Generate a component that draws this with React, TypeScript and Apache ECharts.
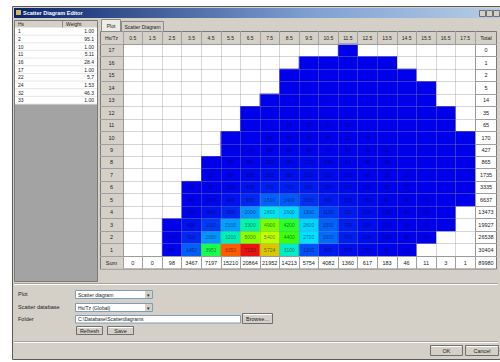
import React, { useEffect, useRef } from 'react';
import * as echarts from 'echarts';

const FONT = 'Liberation Sans';

const tzLabels = ['0.5', '1.5', '2.5', '3.5', '4.5', '5.5', '6.5', '7.5', '8.5', '9.5', '10.5', '11.5', '12.5', '13.5', '14.5', '15.5', '16.5', '17.5'];
const hsLabels = ['1', '2', '3', '4', '5', '6', '7', '8', '9', '10', '11', '12', '13', '14', '15', '16', '17'];
const sumLabels = ['0', '0', '98', '3467', '7197', '15210', '20864', '21952', '14213', '5754', '4082', '1360', '617', '183', '46', '11', '3', '1'];
const totalLabels = ['30404', '26538', '19927', '13473', '6637', '3335', '1735', '865', '427', '170', '65', '35', '14', '5', '2', '1', '0'];
const grandTotal = '89980';

const n = null;
const hs1 = [n, n, 60, 1452, 3951, 6350, 7150, 5724, 3100, 1300, 600, 300, 150, 80, 30, n, n, n];
const hs2 = [n, n, 30, 900, 2000, 3200, 5000, 5400, 4400, 2700, 1600, 700, 300, 100, 40, 10, n, n];
const hs3 = [n, n, 8, 400, 1100, 2100, 3300, 4900, 4200, 2600, 1500, 700, 300, 100, 30, 10, 3, n];
const hs4 = [n, n, n, 100, 400, 900, 2000, 2800, 2600, 1800, 1100, 600, 300, 120, 40, 12, 4, n];
const hs5 = [n, n, n, 30, 150, 400, 900, 1500, 1400, 1000, 600, 350, 180, 80, 30, 10, 4, 1];
const hs6 = [n, n, n, 10, 50, 150, 400, 700, 700, 600, 350, 200, 100, 50, 20, 8, 3, 1];
const hs7 = [n, n, n, n, 20, 60, 150, 350, 380, 320, 220, 120, 60, 30, 12, 5, 2, 1];
const hs8 = [n, n, n, n, 5, 20, 60, 150, 180, 170, 130, 80, 40, 18, 7, 3, 1, 1];
const hs9 = [n, n, n, n, n, 5, 20, 60, 80, 90, 70, 50, 30, 12, 5, 2, 1, 0.5];
const hs10 = [n, n, n, n, n, 1, 5, 20, 30, 35, 30, 22, 14, 7, 3, 1, 0.5, 0.3];
const hs11 = [n, n, n, n, n, n, 1, 5, 10, 12, 12, 10, 7, 4, 2, 1, 0.5, n];
const hs12 = [n, n, n, n, n, n, 0.5, 2, 4, 6, 7, 6, 4, 2, 1, 0.6, 0.3, n];
const hs13 = [n, n, n, n, n, n, n, 0.5, 1, 2, 3, 3, 2, 1, 0.6, 0.3, n, n];
const hs14 = [n, n, n, n, n, n, n, n, 0.4, 0.8, 1, 1, 0.8, 0.5, 0.3, 0.2, n, n];
const hs15 = [n, n, n, n, n, n, n, n, 0.2, 0.3, 0.4, 0.4, 0.3, 0.2, 0.1, n, n, n];
const hs16 = [n, n, n, n, n, n, n, n, n, 0.1, 0.2, 0.2, 0.2, 0.1, n, n, n, n];
const hs17 = [n, n, n, n, n, n, n, n, n, n, n, 0.1, n, n, n, n, n, n];
const cellRows = [hs1, hs2, hs3, hs4, hs5, hs6, hs7, hs8, hs9, hs10, hs11, hs12, hs13, hs14, hs15, hs16, hs17];

const listNames = ['1', '2', '10', '11', '16', '17', '22', '24', '32', '33'];
const listWeights = ['1.00', '95.1', '1.00', '5.11', '28.4', '1.00', '5.7', '1.53', '46.3', '1.00'];

export default function App() {
  const ref = useRef<HTMLDivElement>(null);
  useEffect(() => {
    const chart = echarts.init(ref.current!, null, { renderer: 'svg' });
    const data: any[] = [];
    cellRows.forEach((row, y) =>
      row.forEach((v, x) => {
        if (v !== null && v !== undefined) data.push([x, y, v]);
      })
    );

    const els: any[] = [];
    const rect = (x: number, y: number, w: number, h: number, fill: any, z = 1, stroke?: string) =>
      els.push({ type: 'rect', z, silent: true, shape: { x, y, width: w, height: h }, style: { fill, stroke: stroke || null, lineWidth: stroke ? 1 : 0 } });
    const line = (x1: number, y1: number, x2: number, y2: number, stroke: string, z = 3) =>
      els.push({ type: 'line', z, silent: true, shape: { x1, y1, x2, y2 }, style: { stroke, lineWidth: 1 } });
    const text = (x: number, y: number, s: string, o: any = {}) =>
      els.push({
        type: 'text', z: 20, silent: true, x, y,
        style: {
          text: s, fill: o.color || '#222', fontSize: o.size || 5.5, fontFamily: FONT,
          fontWeight: o.bold ? 'bold' : 'normal', align: o.align || 'left', textAlign: o.align || 'left',
          verticalAlign: 'middle', textVerticalAlign: 'middle',
        },
      });
    const button = (x: number, y: number, w: number, h: number, label: string) => {
      rect(x, y, w, h, '#d4d0c8', 2, '#6f6f6f');
      line(x + 1, y + 1, x + w - 1, y + 1, '#ffffff', 3);
      text(x + w / 2, y + h / 2, label, { align: 'center' });
    };

    // window
    rect(12.5, 6.5, 490, 353, '#d4d0c8', 0, '#5a5a5a');
    rect(14, 8, 486, 10, new echarts.graphic.LinearGradient(0, 0, 1, 0, [
      { offset: 0, color: '#0a246a' }, { offset: 0.6, color: '#7d9ed0' }, { offset: 1, color: '#b6cde8' },
    ]), 1);
    rect(16, 10, 5, 5, '#d9b45a', 2);
    text(23, 13, 'Scatter Diagram Editor', { color: '#ffffff', bold: true, size: 5.5 });
    rect(479.5, 10.5, 6, 6, '#d4d0c8', 2, '#707070');
    rect(486.5, 10.5, 6, 6, '#d4d0c8', 2, '#707070');
    rect(493.5, 10.5, 6, 6, '#d4d0c8', 2, '#707070');

    // left list panel
    rect(14.5, 20.5, 83, 261, '#a3a3a3', 1, '#7a7a7a');
    rect(15, 21, 82, 83, '#ffffff', 2);
    rect(15, 21, 82, 6.5, '#d4d0c8', 3);
    line(62.5, 21, 62.5, 27.5, '#8a8a8a', 4);
    text(18, 24.2, 'Hs', { size: 5 });
    text(66, 24.2, 'Weight', { size: 5 });
    listNames.forEach((nm, i) => {
      const yc = 27.5 + 7.65 * i + 3.8;
      line(15, 27.5 + 7.65 * (i + 1), 97, 27.5 + 7.65 * (i + 1), '#e6e6e6', 3);
      text(18, yc, nm, { size: 5 });
      text(94, yc, listWeights[i], { size: 5, align: 'right' });
    });

    // tabs
    rect(101.5, 19.5, 19, 12, '#ecebe6', 2, '#8c8c8c');
    text(111, 25.5, 'Plot', { size: 5, align: 'center' });
    rect(121.5, 21.5, 42, 10, '#d4d0c8', 2, '#8c8c8c');
    text(142.5, 26.5, 'Scatter Diagram', { size: 5, align: 'center' });

    // table
    rect(100.5, 31.5, 396, 237.5, '#ffffff', 1, '#7a7a7a');
    rect(101, 32, 395, 12, '#d4d0c8', 2);
    rect(101, 32, 22, 236.5, '#d4d0c8', 2);
    text(111.5, 37.8, 'Hs/Tz', { size: 5, align: 'center' });
    text(486, 37.8, 'Total', { size: 5.5, align: 'center' });
    text(111.5, 262.5, 'Sum', { size: 5.5, align: 'center' });
    text(486, 262.5, grandTotal, { size: 5.5, align: 'center' });

    // etched line under panels
    line(14, 283.5, 498, 283.5, '#a5a29a', 2);
    line(14, 284.5, 498, 284.5, '#ffffff', 2);

    // controls
    text(18, 294, 'Plot', { size: 5.5 });
    text(18, 307, 'Scatter database', { size: 5.5 });
    text(18, 318.5, 'Folder', { size: 5.5 });
    rect(75.5, 290.5, 77, 8, '#ffffff', 2, '#7f9db9');
    rect(145, 291, 7, 7, '#d4d0c8', 3);
    text(78, 294.5, 'Scatter diagram', { size: 5 });
    text(148.5, 294.5, '▾', { size: 5, align: 'center' });
    rect(75.5, 303.5, 77, 8, '#ffffff', 2, '#7f9db9');
    rect(145, 304, 7, 7, '#d4d0c8', 3);
    text(78, 307.5, 'Hs/Tz (Global)', { size: 5 });
    text(148.5, 307.5, '▾', { size: 5, align: 'center' });
    rect(75.5, 315.5, 165, 7.5, '#ffffff', 2, '#7f9db9');
    text(78, 319.3, 'C:\\Database\\Scatterdiagrams', { size: 5 });
    button(242.5, 313.5, 30, 10, 'Browse...');
    button(76.5, 326.5, 26, 8, 'Refresh');
    button(107.5, 326.5, 26, 8, 'Save');

    line(14, 341.5, 498, 341.5, '#a5a29a', 2);
    line(14, 342.5, 498, 342.5, '#ffffff', 2);
    button(430.5, 345.5, 32, 10, 'OK');
    button(465.5, 345.5, 33, 10, 'Cancel');

    const axisBase = (extra: any) => ({
      type: 'category',
      z: 11,
      boundaryGap: true,
      axisLine: { show: true, lineStyle: { color: '#9a9a9a', width: 1 } },
      axisTick: { show: true, interval: 0, alignWithLabel: false, inside: false, length: extra.tickLen, lineStyle: { color: '#a0a0a0' } },
      axisLabel: { interval: 0, fontSize: 5.5, color: '#222', fontFamily: FONT, margin: extra.margin, ...(extra.label || {}) },
      splitLine: { show: extra.split, interval: 0, lineStyle: { color: 'rgba(140,140,140,0.35)', width: 1 } },
      position: extra.position,
      data: extra.data,
    });

    const option: any = {
      animation: false,
      backgroundColor: '#ffffff',
      textStyle: { fontFamily: FONT },
      grid: { left: 123, top: 44, width: 352, height: 212, containLabel: false },
      xAxis: [
        axisBase({ position: 'bottom', data: sumLabels, tickLen: 13, margin: 6.5, split: true, label: { verticalAlign: 'middle' } }),
        axisBase({ position: 'top', data: tzLabels, tickLen: 13, margin: 6.2, split: false, label: { verticalAlign: 'middle', fontSize: 5 } }),
      ],
      yAxis: [
        axisBase({ position: 'left', data: hsLabels, tickLen: 23, margin: 11.5, split: true, label: { align: 'center' } }),
        axisBase({ position: 'right', data: totalLabels, tickLen: 22, margin: 11, split: false, label: { align: 'center' } }),
      ],
      visualMap: {
        show: false,
        type: 'continuous',
        min: 0,
        max: 7200,
        dimension: 2,
        seriesIndex: 0,
        inRange: {
          color: ['#0000ea', '#0028f2', '#0080ff', '#00e0ff', '#00ff80', '#40ff00', '#c0ff00', '#ff6000', '#e81010'],
        },
      },
      graphic: { elements: els },
      series: [
        {
          type: 'heatmap',
          xAxisIndex: 0,
          yAxisIndex: 0,
          z: 10,
          data,
          label: {
            show: true,
            fontSize: 5,
            fontFamily: FONT,
            color: 'rgba(0,0,30,0.55)',
            formatter: (p: any) => (p.value[2] >= 10 ? String(Math.round(p.value[2])) : ''),
          },
          itemStyle: { borderWidth: 0 },
          emphasis: { disabled: true },
        },
      ],
    };
    chart.setOption(option);
    return () => chart.dispose();
  }, []);
  return <div ref={ref} style={{ position: 'absolute', left: 0, top: 0, width: 500, height: 362 }} />;
}
